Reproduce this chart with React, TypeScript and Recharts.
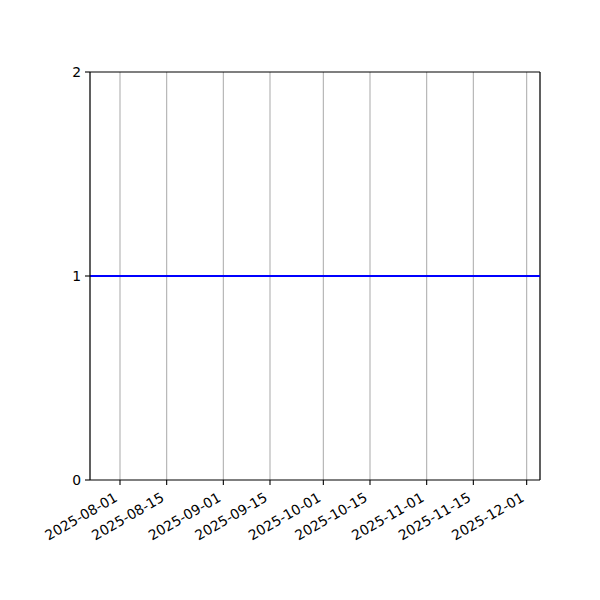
import { CartesianGrid, Line, LineChart, ReferenceLine, XAxis, YAxis } from "recharts";

const dates = ["2025-07-23", "2025-12-05"];
const values = [1, 1];
const tickDates = [
  "2025-08-01",
  "2025-08-15",
  "2025-09-01",
  "2025-09-15",
  "2025-10-01",
  "2025-10-15",
  "2025-11-01",
  "2025-11-15",
  "2025-12-01"
];
const yTicks = [0, 1, 2];

const toTime = (d: string) => Date.parse(d + "T00:00:00Z");
const fmt = (t: number) => new Date(t).toISOString().slice(0, 10);

const data = dates.map((d, i) => ({ t: toTime(d), v: values[i] }));
const xTicks = tickDates.map(toTime);

const font = "DejaVu Sans, sans-serif";

function DateTick(props: any) {
  const { x, y, payload } = props;
  return (
    <g transform={`translate(${x},${y + 16}) rotate(-30)`}>
      <text x={0} y={-3} textAnchor="end" fill="#000" fontSize={13.9} fontFamily={font}>
        {fmt(payload.value)}
      </text>
    </g>
  );
}

export default function App() {
  return (
    <div style={{ position: "absolute", left: 0, top: 0, width: 600, height: 600, background: "#fff" }}>
      <LineChart width={600} height={600} data={data} margin={{ top: 72, right: 60, bottom: 0, left: 40 }}>
        <CartesianGrid horizontal={false} stroke="#b0b0b0" strokeWidth={1.1} />
        <XAxis
          dataKey="t"
          type="number"
          domain={["dataMin", "dataMax"]}
          ticks={xTicks}
          tick={<DateTick />}
          height={120}
          stroke="#000"
          strokeWidth={1.1}
          tickSize={5}
          interval={0}
        />
        <YAxis
          type="number"
          domain={[0, 2]}
          ticks={yTicks}
          width={50}
          stroke="#000"
          strokeWidth={1.1}
          tickSize={5}
          tickMargin={4}
          tick={{ fill: "#000", fontSize: 13.9, fontFamily: font }}
        />
        <ReferenceLine y={2} stroke="#000" strokeWidth={1.1} ifOverflow="visible" />
        <ReferenceLine x={data[data.length - 1].t} stroke="#000" strokeWidth={1.1} ifOverflow="visible" />
        <Line
          dataKey="v"
          stroke="#0000ff"
          strokeWidth={2}
          dot={false}
          isAnimationActive={false}
        />
      </LineChart>
    </div>
  );
}
